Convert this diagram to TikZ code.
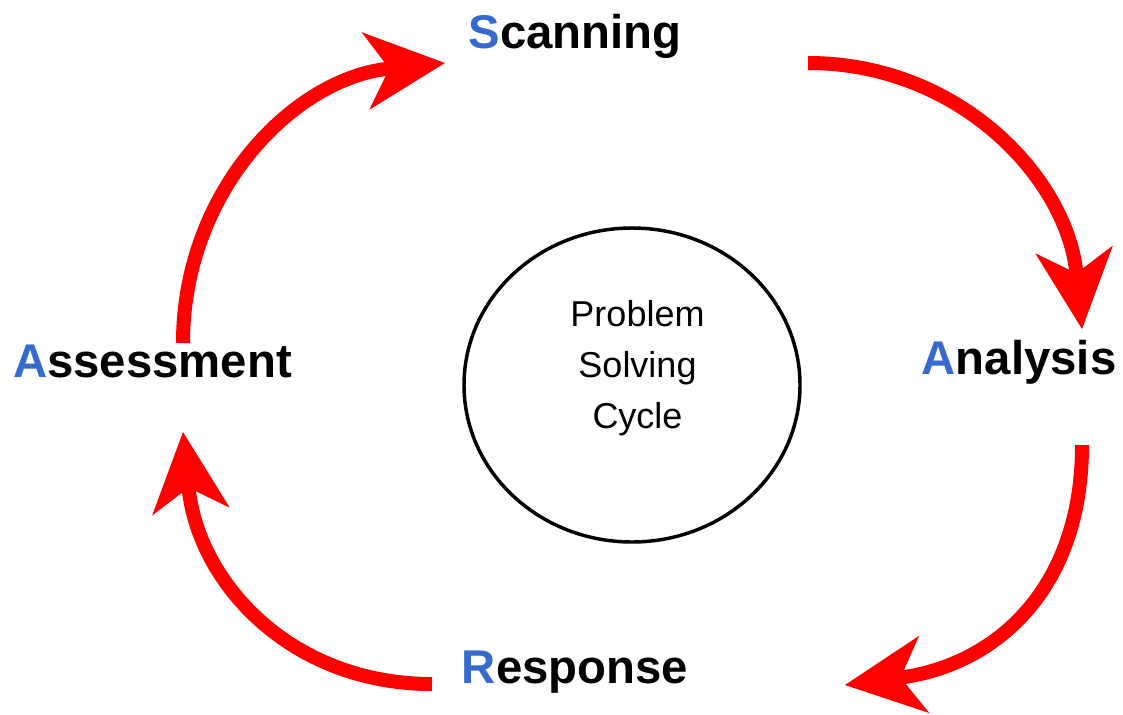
\documentclass[tikz,border=0pt]{standalone}
\usepackage{fontspec}
\setmainfont{Liberation Sans}
\usetikzlibrary{arrows.meta,shapes.geometric}
\definecolor{stageblue}{RGB}{55,106,206}
\definecolor{cyclered}{RGB}{255,0,0}
\begin{document}
\begin{tikzpicture}[x=0.75pt,y=-0.75pt,
  stage/.style={anchor=base, inner sep=0pt, font=\fontsize{35.5}{40}\selectfont\bfseries},
  flow/.style={draw=cyclered, line width=10.5pt,
    -{Stealth[length=60pt,width=58.5pt,inset=18pt,line width=0pt,fill=cyclered]}},
  hub/.style={ellipse, draw, line width=2.6pt, minimum width=252pt,
    minimum height=235.5pt, inner sep=0pt},
  hubtext/.style={anchor=base, inner sep=0pt, align=center,
    font=\fontsize{27}{37.9}\selectfont}]
\useasboundingbox (0,0) rectangle (1123,714);

% central circle
\node[hub] (core) at (632,385) {};
\node[hubtext] (coretext) at (637.5,428) {Problem\\Solving\\Cycle};

% stage labels
\node[stage] (scan) at (575,48) {\textcolor{stageblue}{S}canning};
\node[stage] (anal) at (1019,374) {\textcolor{stageblue}{A}nalysis};
\node[stage] (resp) at (575,683) {\textcolor{stageblue}{R}esponse};
\node[stage] (asse) at (152.5,377) {\textcolor{stageblue}{A}ssessment};

% arrow end points
\coordinate (a1s) at (183,343);  \coordinate (a1e) at (445,63);
\coordinate (a2s) at (808,63);   \coordinate (a2e) at (1082,329);
\coordinate (a3s) at (1082,445); \coordinate (a3e) at (845,685);
\coordinate (a4s) at (432,684);  \coordinate (a4e) at (183,432);

% cycle arrows
\draw[flow] (a1s) .. controls (183,190) and (295,78) .. (a1e);
\draw[flow] (a2s) .. controls (960,63) and (1067,179) .. (a2e);
\draw[flow] (a3s) .. controls (1082,590) and (995,665) .. (a3e);
\draw[flow] (a4s) .. controls (290,684) and (198,582) .. (a4e);
\end{tikzpicture}
\end{document}
